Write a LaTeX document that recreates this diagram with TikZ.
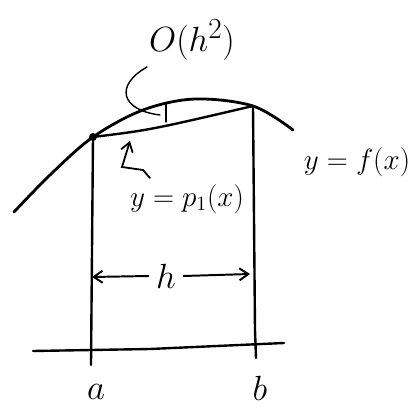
\documentclass[tikz,border=0pt]{standalone}
\usepackage{amsmath}
\usetikzlibrary{arrows.meta, positioning, calc}
\tikzset{
  pen/.style={line width=1.7pt, line cap=round, line join=round},
  thinpen/.style={line width=1pt, line cap=round},
  lbl/.style={inner sep=1pt, font=\fontsize{21}{23}\selectfont},
  tip/.style={-{Straight Barb[length=2.2mm, width=3mm]}},
}
\begin{document}
\begin{tikzpicture}[x=0.025cm, y=-0.025cm]
    \useasboundingbox (0,0) rectangle (416,407);

    \coordinate (pa) at (93,137);
    \coordinate (pb) at (253,106);
    \coordinate (fa) at (91,365);
    \coordinate (fb) at (256,358);

    % the function and its chord
    \draw[pen, line width=2pt] plot[smooth, tension=0.55] coordinates
      {(14,212) (50,175) (pa) (143,110) (195,99) (pb) (293,130)};
    \draw[pen] (pa) .. controls (150,130) .. (pb);
    \fill (pa) circle (4);

    \draw[pen] (pa) -- (fa);
    \draw[pen] (pb) -- (255,330) -- (fb);
    \draw[pen] (33,351) -- (150,349) -- (284,343);

    \node[lbl, font=\fontsize{30}{32}\selectfont] (a) at (96,392) {$a$};
    \node[lbl, font=\fontsize{26}{28}\selectfont] (b) at (260,388) {$b$};

    % width h
    \node[lbl, font=\fontsize{27}{29}\selectfont] (h) at (166,276) {$h$};
    \coordinate (ha) at (92,277);
    \coordinate (hb) at (250,274);
    \draw[thinpen, line width=1.4pt, tip] (h.west) ++(-6,0) -- (ha);
    \draw[thinpen, line width=1.4pt, tip] (h.east) ++(6,0) -- (hb);

    % error term
    \node[lbl, font=\fontsize{29}{31}\selectfont] (err) at (192,40) {$O(h^2)$};
    \draw[thinpen] (166,103) -- (166,122);
    \draw[thinpen] (147,67) .. controls (115,85) and (120,110) .. (160,115);

    % labels
    \node[lbl] (fx) at (357,162) {$y=f(x)$};
    \node[lbl, font=\fontsize{20}{22}\selectfont] (px) at (187,199) {$y=p_1(x)$};
    \draw[thinpen, line width=1.3pt, tip] (150,178) -- (143,170) -- (122,167) -- (130,141);
\end{tikzpicture}
\end{document}
